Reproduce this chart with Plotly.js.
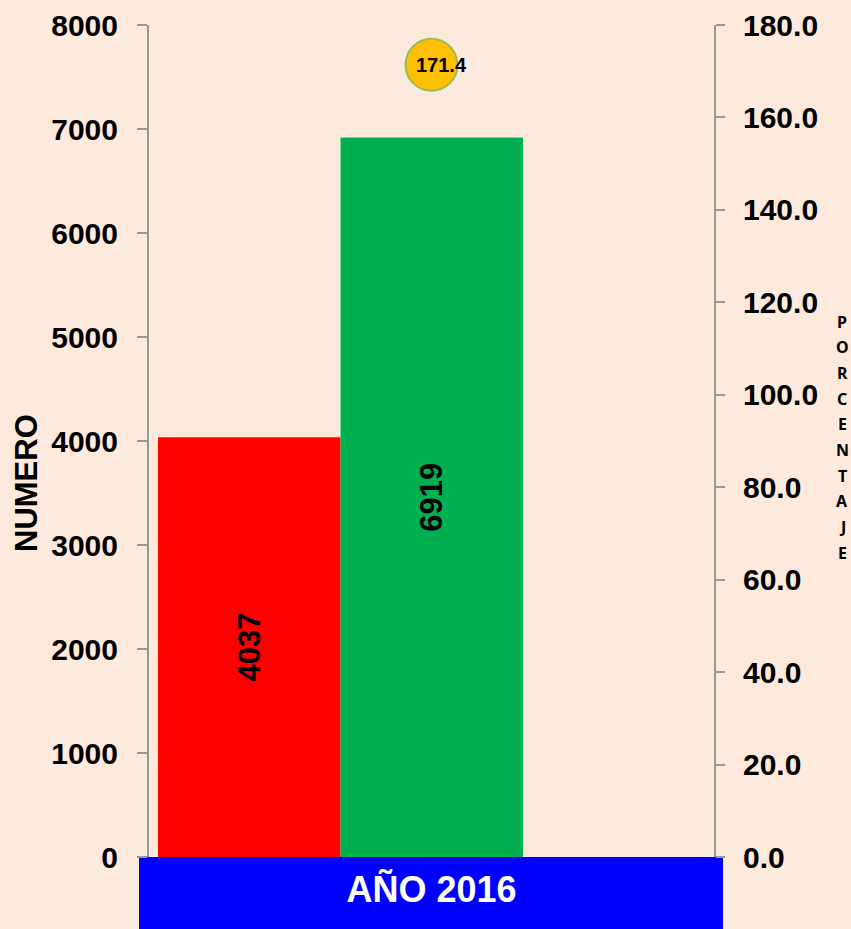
<!DOCTYPE html>
<html><head><meta charset="utf-8">
<script src="https://cdn.plot.ly/plotly-3.0.1.min.js"></script>
<style>html,body{margin:0;padding:0;background:#FDEADC;}</style>
</head><body><div id="chart" style="width:851px;height:929px;"></div>
<script>
const categories = ['AÑO 2016'];
const redValues = [4037];
const greenValues = [6919];
const percentValues = [171.4];
const leftTicks = [0, 1000, 2000, 3000, 4000, 5000, 6000, 7000, 8000];
const rightTicks = [0, 20, 40, 60, 80, 100, 120, 140, 160, 180];
const leftTitle = 'NUMERO';
const rightTitle = 'PORCENTAJE';

const FONT = 'Liberation Sans, Arial, sans-serif';
const bg = '#FDEADC';
const axisGrey = '#989898';

const traces = [
  {type: 'bar', x: categories, y: redValues, width: 0.323, offset: -0.484,
   marker: {color: '#FF0000'}, text: redValues.map(String), textposition: 'inside',
   insidetextanchor: 'middle', textangle: -90, constraintext: 'none',
   textfont: {family: FONT, size: 31, weight: 'bold', color: '#000'}, hoverinfo: 'none'},
  {type: 'bar', x: categories, y: greenValues, width: 0.323, offset: -0.161,
   marker: {color: '#00B050'}, text: greenValues.map(String), textposition: 'inside',
   insidetextanchor: 'middle', textangle: -90, constraintext: 'none',
   textfont: {family: FONT, size: 31, weight: 'bold', color: '#000'}, hoverinfo: 'none'},
  {type: 'scatter', mode: 'markers', x: categories, y: percentValues, yaxis: 'y2',
   marker: {size: 52, color: '#FFC000', line: {color: '#9BBB59', width: 2}}, hoverinfo: 'none'}
];

const plotW = 851 - 149 - 137, plotH = 929 - 25 - 72;
const annotations = [
  {xref: 'x', yref: 'y2', x: categories[0], y: percentValues[0], text: percentValues[0].toFixed(1),
   showarrow: false, xshift: 10, font: {family: FONT, size: 20, weight: 'bold', color: '#000'}},
  {xref: 'paper', yref: 'paper', x: (27 - 149) / plotW, y: (857 - 483) / plotH, text: leftTitle,
   textangle: -90, showarrow: false, xanchor: 'center', yanchor: 'middle',
   font: {family: FONT, size: 31, weight: 'bold', color: '#000'}}
];
const letters = rightTitle.split('');
letters.forEach((ch, i) => {
  annotations.push({xref: 'paper', yref: 'paper', x: (842 - 149) / plotW,
    y: (857 - (321.5 + i * 25.7)) / plotH, text: ch, showarrow: false,
    xanchor: 'center', yanchor: 'middle',
    font: {family: 'Noto Sans, Open Sans, sans-serif', size: 16, weight: 'bold', color: '#000'}});
});

const layout = {
  width: 851, height: 929,
  margin: {l: 149, r: 137, t: 25, b: 72, pad: 0},
  paper_bgcolor: bg, plot_bgcolor: bg,
  showlegend: false,
  barmode: 'overlay',
  xaxis: {type: 'category', range: [-0.5, 0.5], showline: false, ticks: '', showgrid: false,
    zeroline: false, fixedrange: true, ticklabelstandoff: 8,
    tickfont: {family: FONT, size: 36, weight: 'bold', color: '#FFFFFF'}},
  yaxis: {range: [0, 8000], tickvals: leftTicks, ticktext: leftTicks.map(String),
    ticks: 'outside', ticklen: 10, tickcolor: axisGrey, tickwidth: 2,
    showline: true, linecolor: axisGrey, linewidth: 2, showgrid: false, zeroline: false,
    ticklabelstandoff: 13,
    tickfont: {family: FONT, size: 30, weight: 'bold', color: '#000'}},
  yaxis2: {overlaying: 'y', side: 'right', range: [0, 180], tickvals: rightTicks,
    tickformat: '.1f', ticks: 'outside', ticklen: 9, tickcolor: axisGrey, tickwidth: 2,
    showline: true, linecolor: axisGrey, linewidth: 2, showgrid: false, zeroline: false,
    ticklabelstandoff: 12,
    tickfont: {family: FONT, size: 30, weight: 'bold', color: '#000'}},
  shapes: [
    {type: 'rect', xref: 'paper', yref: 'paper', x0: -10 / plotW, x1: 574 / plotW,
     y0: -72 / plotH, y1: 0, fillcolor: '#0000FF', line: {width: 0}, layer: 'below'}
  ],
  annotations: annotations
};

Plotly.newPlot('chart', traces, layout, {displayModeBar: false, staticPlot: true});
</script></body></html>
